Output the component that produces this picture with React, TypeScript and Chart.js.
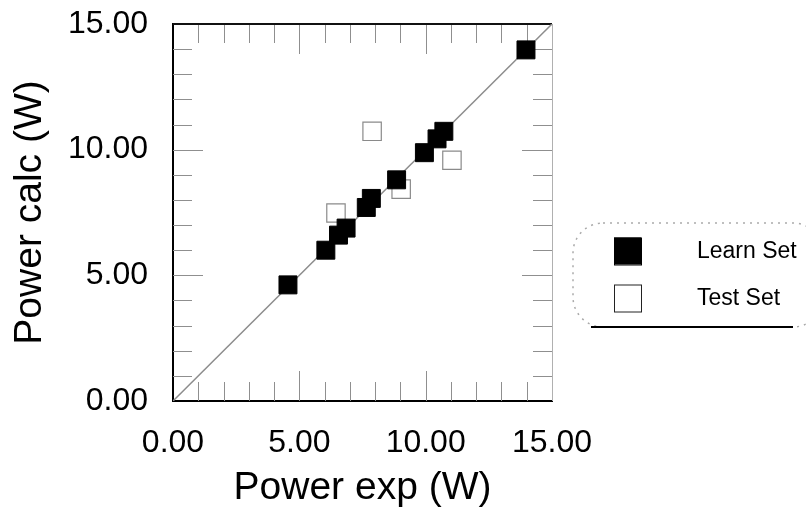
import React, { useEffect, useRef } from "react";
import { Chart, registerables } from "chart.js";

Chart.register(...registerables);

// ---- data ----
const learnExp = [4.55, 6.05, 6.55, 6.85, 7.65, 7.85, 8.85, 9.95, 10.45, 10.72, 13.97];
const learnCalc = [4.62, 6.0, 6.6, 6.88, 7.7, 8.06, 8.8, 9.88, 10.43, 10.73, 13.97];
const testExp = [6.45, 7.88, 9.03, 11.04];
const testCalc = [7.48, 10.73, 8.43, 9.58];
const idealLine = [0, 15];
const tickValues = [0, 5, 10, 15];
const minorTickValues = [1, 2, 3, 4, 5, 6, 7, 8, 9, 10, 11, 12, 13, 14];
const xTitle = "Power exp (W)";
const yTitle = "Power calc (W)";
const learnLabel = "Learn Set";
const testLabel = "Test Set";

const FONT = "'Liberation Sans', Arial, Helvetica, sans-serif";

const frameAndLegend = {
  id: "frameAndLegend",
  beforeDatasetsDraw(chart: any) {
    const { ctx, chartArea: a, scales } = chart;
    const xs = scales.x;
    const ys = scales.y;
    ctx.save();
    // inward tick marks on all four sides
    ctx.strokeStyle = "#8f8f8f";
    ctx.lineWidth = 1;
    minorTickValues.forEach((v) => {
      const len = v % 5 === 0 ? 30 : 19;
      const px = Math.round(xs.getPixelForValue(v)) + 0.5;
      const py = Math.round(ys.getPixelForValue(v)) + 0.5;
      ctx.beginPath();
      ctx.moveTo(px, a.bottom);
      ctx.lineTo(px, a.bottom - len);
      ctx.moveTo(px, a.top);
      ctx.lineTo(px, a.top + len);
      ctx.moveTo(a.left, py);
      ctx.lineTo(a.left + len, py);
      ctx.moveTo(a.right, py);
      ctx.lineTo(a.right - len, py);
      ctx.stroke();
    });
    // top and right frame
    ctx.strokeStyle = "#111";
    ctx.lineWidth = 2;
    ctx.beginPath();
    ctx.moveTo(a.left, a.top);
    ctx.lineTo(a.right, a.top);
    ctx.stroke();
    ctx.strokeStyle = "#b0b0b0";
    ctx.lineWidth = 1;
    ctx.beginPath();
    ctx.moveTo(a.right + 0.5, a.top);
    ctx.lineTo(a.right + 0.5, a.bottom);
    ctx.stroke();
    ctx.restore();
  },
  afterDraw(chart: any) {
    const { ctx } = chart;
    ctx.save();
    // legend frame: dotted rounded box with solid bottom rule
    const bx = 573, by = 223, bw = 250, bh = 104, r = 30;
    ctx.strokeStyle = "#aaa";
    ctx.lineWidth = 1.5;
    ctx.setLineDash([2, 5]);
    ctx.beginPath();
    ctx.roundRect(bx, by, bw, bh, r);
    ctx.stroke();
    ctx.setLineDash([]);
    ctx.strokeStyle = "#000";
    ctx.lineWidth = 2;
    ctx.beginPath();
    ctx.moveTo(bx + 18, by + bh);
    ctx.lineTo(bx + 220, by + bh);
    ctx.stroke();

    const items = chart.data.datasets.filter((d: any) => d.label);
    const rows = [251, 298];
    items.forEach((d: any, i: number) => {
      const cy = rows[i];
      const s = 27;
      ctx.fillStyle = d.backgroundColor;
      ctx.fillRect(614, cy - s / 2, s, s);
      ctx.strokeStyle = d.label === testLabel ? "#222" : d.borderColor;
      ctx.lineWidth = 1;
      ctx.strokeRect(614.5, cy - s / 2 + 0.5, s, s);
      ctx.fillStyle = "#000";
      ctx.font = `23px ${FONT}`;
      ctx.textAlign = "left";
      ctx.textBaseline = "middle";
      ctx.fillText(d.label, 697, cy + 1);
    });
    ctx.restore();
  },
};

export default function App() {
  const ref = useRef<HTMLCanvasElement>(null);

  useEffect(() => {
    if (!ref.current) return;
    const chart = new Chart(ref.current, {
      type: "scatter",
      data: {
        datasets: [
          {
            label: learnLabel,
            data: learnExp.map((x, i) => ({ x, y: learnCalc[i] })),
            pointStyle: "rect",
            pointRadius: 12.7,
            pointHoverRadius: 12.7,
            backgroundColor: "#000",
            borderColor: "#000",
            borderWidth: 1,
            order: 1,
          },
          {
            label: testLabel,
            data: testExp.map((x, i) => ({ x, y: testCalc[i] })),
            pointStyle: "rect",
            pointRadius: 13,
            pointHoverRadius: 13,
            backgroundColor: "#fff",
            borderColor: "#8a8a8a",
            borderWidth: 1.2,
            order: 2,
          },
          {
            type: "line",
            label: "",
            data: idealLine.map((v) => ({ x: v, y: v })),
            borderColor: "#8c8c8c",
            borderWidth: 1.5,
            pointRadius: 0,
            showLine: true,
            fill: false,
            order: 3,
          } as any,
        ],
      },
      options: {
        responsive: false,
        animation: false,
        events: [],
        layout: { padding: { left: 0, top: 24, right: 254, bottom: 0 } },
        plugins: { legend: { display: false }, tooltip: { enabled: false } },
        scales: {
          x: {
            type: "linear",
            min: 0,
            max: 15,
            afterBuildTicks: (s: any) => {
              s.ticks = tickValues.map((v) => ({ value: v }));
            },
            afterFit: (s: any) => {
              s.height = 108;
              s.paddingLeft = 0;
              s.paddingRight = 0;
            },
            grid: { display: false, drawTicks: false },
            border: { display: true, color: "#000", width: 2 },
            ticks: {
              color: "#000",
              padding: 23,
              maxRotation: 0,
              font: { family: FONT, size: 32 },
              callback: (v: any) => Number(v).toFixed(2),
            },
            title: {
              display: true,
              text: xTitle,
              color: "#000",
              font: { family: FONT, size: 39, lineHeight: 1 },
              padding: { top: 0, bottom: 1 },
            },
          },
          y: {
            type: "linear",
            min: 0,
            max: 15,
            afterBuildTicks: (s: any) => {
              s.ticks = tickValues.map((v) => ({ value: v }));
            },
            afterFit: (s: any) => {
              s.width = 173;
              s.paddingTop = 0;
              s.paddingBottom = 0;
            },
            grid: { display: false, drawTicks: false },
            border: { display: true, color: "#000", width: 2 },
            ticks: {
              color: "#000",
              padding: 25,
              font: { family: FONT, size: 32 },
              callback: (v: any) => Number(v).toFixed(2),
            },
            title: {
              display: true,
              text: yTitle,
              color: "#000",
              font: { family: FONT, size: 39, lineHeight: 1 },
              padding: { top: 11, bottom: 0 },
            },
          },
        },
      },
      plugins: [frameAndLegend],
    });
    return () => chart.destroy();
  }, []);

  return (
    <div style={{ position: "absolute", left: 0, top: 0, width: 806, height: 509, background: "#fff" }}>
      <canvas ref={ref} width={806} height={509} style={{ display: "block" }} />
    </div>
  );
}
